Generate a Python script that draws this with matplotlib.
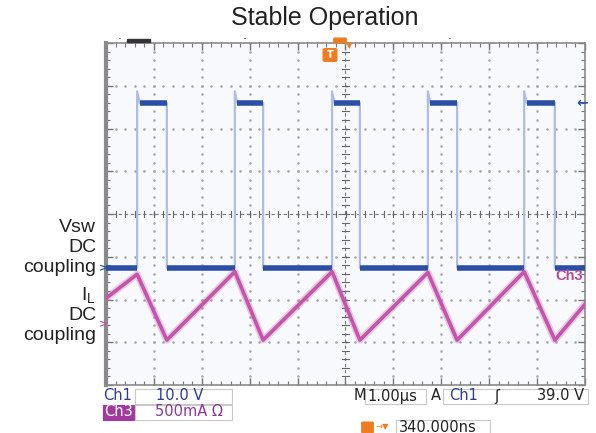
import numpy as np
import matplotlib.pyplot as plt
from matplotlib.patches import Rectangle, FancyBboxPatch

# ---------------------------------------------------------------------------
# Scope settings and waveform readings (time in us from screen centre)
# ---------------------------------------------------------------------------
W, H = 596, 433

ch1_scale, ch1_pos = 10.0, -1.26    # V/div, ground position in div
ch3_scale, ch3_pos = 0.5, -2.57     # A/div, ground position in div

# Ch1: switch node voltage Vsw
vsw_rise = [-4.35, -2.31, -0.28, 1.72, 3.73]
vsw_fall = [-3.73, -1.72, 0.30, 2.33, 4.37]
vsw_low = 0.0
vsw_high = 38.6
vsw_spike = 41.3

# Ch3: inductor current IL (peak at each Vsw rise, valley at each fall)
il_start = 0.30
il_peak = [0.58, 0.61, 0.61, 0.60, 0.61]
il_valley = [-0.19, -0.19, -0.19, -0.19, -0.19]
il_end = 0.23

left_labels = ["Vsw", "DC", "coupling", "I$_\\mathregular{L}$", "DC", "coupling"]

BLUE_D = "#2c4fa6"
BLUE_L = "#aebde4"
PINK = "#c455aa"
ORANGE = "#ee7d22"
TXT_BLUE = "#2d3c8e"


def fx(x):
    return x / W


def fy(y):
    return 1 - y / H


def v2div(v):
    return v / ch1_scale + ch1_pos


def i2div(i):
    return i / ch3_scale + ch3_pos


fig = plt.figure(figsize=(W / 100, H / 100), dpi=100)
fig.patch.set_facecolor("white")
ax = fig.add_axes([fx(106), fy(385), (585 - 106) / W, (385 - 43) / H])
ax.set_facecolor("#f7f9fd")
ax.set_xlim(-5, 5)
ax.set_ylim(-4, 4)

# graticule: dotted lines at each division
minor_x = np.arange(-5, 5.001, 0.2)
minor_y = np.arange(-4, 4.001, 0.2)
for gx in range(-4, 5):
    if gx != 0:
        ax.plot(np.full_like(minor_y, gx), minor_y, ls="none", marker="o",
                ms=0.9, color="#ababab", zorder=1)
for gy in range(-3, 4):
    if gy != 0:
        ax.plot(minor_x, np.full_like(minor_x, gy), ls="none", marker="o",
                ms=0.9, color="#ababab", zorder=1)

# centre crosshair with small ticks
ax.plot([-5, 5], [0, 0], color="#777777", lw=0.8, ls=(0, (3, 2.5)), zorder=1)
ax.plot([0, 0], [-4, 4], color="#777777", lw=0.8, ls=(0, (3, 2.5)), zorder=1)
for t in minor_x:
    ax.plot([t, t], [-0.07, 0.07], color="#666666", lw=0.8, zorder=1)
for t in minor_y:
    ax.plot([-0.08, 0.08], [t, t], color="#666666", lw=0.8, zorder=1)

# frame ticks
ax.set_xticks(np.arange(-5, 5.001, 1))
ax.set_yticks(np.arange(-4, 4.001, 1))
ax.set_xticks(minor_x, minor=True)
ax.set_yticks(minor_y, minor=True)
ax.tick_params(which="both", direction="in", top=True, right=True,
               labelbottom=False, labelleft=False, color="#777777")
ax.tick_params(which="major", length=5, width=1)
ax.tick_params(which="minor", length=3, width=0.8)
for side, sp in ax.spines.items():
    sp.set_color("#8a8a8a")
    sp.set_linewidth(1.2)
ax.spines["left"].set_linewidth(3)

# Ch1 waveform: faint full trace, then bold flat parts
vt, vv = [-5.0], [vsw_low]
for r, f in zip(vsw_rise, vsw_fall):
    vt += [r, r, r + 0.05, f, f]
    vv += [vsw_low, vsw_spike, vsw_high, vsw_high, vsw_low]
vt.append(5.0)
vv.append(vsw_low)
ax.plot(vt, v2div(np.array(vv)), color=BLUE_L, lw=1.6, zorder=3)

low_starts = [-5.0] + vsw_fall
low_ends = vsw_rise + [5.0]
for a, b in zip(low_starts, low_ends):
    ax.plot([a, b], [v2div(vsw_low)] * 2, color=BLUE_D, lw=4.0,
            solid_capstyle="butt", zorder=4)
for r, f in zip(vsw_rise, vsw_fall):
    ax.plot([r + 0.05, f], [v2div(vsw_high)] * 2, color=BLUE_D, lw=4.0,
            solid_capstyle="butt", zorder=4)

# Ch3 waveform: triangular inductor current
it, iv = [-5.0], [il_start]
for r, p, f, v in zip(vsw_rise, il_peak, vsw_fall, il_valley):
    it += [r, f]
    iv += [p, v]
it.append(5.0)
iv.append(il_end)
iy = i2div(np.array(iv))
ax.plot(it, iy, color=PINK, lw=5, alpha=0.3, zorder=5)
ax.plot(it, iy, color=PINK, lw=2.6, zorder=6)

# channel markers
fig.text(fx(104), fy(268), ">", color=BLUE_D, fontsize=8, ha="center",
         va="center", fontweight="bold")
fig.text(fx(103), fy(324), ">", color=PINK, fontsize=8, ha="center",
         va="center", fontweight="bold")
fig.text(fx(569), fy(276), "Ch3", color="#b44a9f", fontsize=10.5,
         ha="center", va="center", family="Liberation Sans",
         fontweight="bold")
fig.text(fx(582), fy(103), "\u2190", color=BLUE_D, fontsize=10, ha="center",
         va="center", fontweight="bold")

# top markers
fig.add_artist(Rectangle((fx(127), fy(42)), 23 / W, 3 / H,
                         transform=fig.transFigure, color="#333333"))
for xx in (120, 245, 450):
    fig.text(fx(xx), fy(40), "\u00b7", color="#333333", fontsize=9,
             ha="center", va="center")
fig.add_artist(FancyBboxPatch((fx(335), fy(42)), 10 / W, 3 / H,
                              boxstyle="round,pad=0.002",
                              transform=fig.transFigure, color=ORANGE))
fig.text(fx(349), fy(46), "\u25bc", color=ORANGE, fontsize=6, ha="center",
         va="center")
fig.add_artist(FancyBboxPatch((fx(325), fy(60)), 10 / W, 10 / H,
                              boxstyle="round,pad=0.003",
                              transform=fig.transFigure, color=ORANGE))
fig.text(fx(330), fy(55.5), "T", color="white", fontsize=7, ha="center",
         va="center", fontweight="bold")

# title and left-side labels
fig.text(fx(325), fy(18), "Stable Operation", fontsize=18, ha="center",
         va="center", color="#222222", family="Liberation Sans")
label_y = [228, 248, 268, 296, 316, 336]
for txt, yy in zip(left_labels, label_y):
    fig.text(fx(96), fy(yy), txt, fontsize=14, ha="right", va="center",
             color="#222222", family="Liberation Sans")


# readout boxes below the screen
def box(x0, x1, y0, y1, face="white", edge="#c8c8c8"):
    fig.add_artist(Rectangle((fx(x0), fy(y1)), (x1 - x0) / W, (y1 - y0) / H,
                             transform=fig.transFigure, facecolor=face,
                             edgecolor=edge, lw=0.8))


info = dict(fontsize=10.5, va="center", family="DejaVu Sans", color=TXT_BLUE)
fig.text(fx(103), fy(396), "Ch1", ha="left", **info)
box(135, 232, 389, 404)
fig.text(fx(156), fy(396), "10.0 V", ha="left", **info)
box(103, 134, 405, 420, face="#a2399f", edge="#a2399f")
fig.text(fx(104), fy(412), "Ch3", ha="left", fontsize=10.5, va="center",
         color="white")
box(135, 232, 405, 420)
fig.text(fx(155), fy(412), "500mA \u03a9", ha="left", fontsize=10.5,
         va="center", color="#8d3a93")
fig.text(fx(354), fy(396), "M", ha="left", fontsize=10.5, va="center",
         color="#222222")
box(365, 426, 389, 404)
fig.text(fx(367), fy(396), "1.00\u00b5s", ha="left", fontsize=10.5,
         va="center", color="#222222")
fig.text(fx(431), fy(396), "A", ha="left", fontsize=10.5, va="center",
         color="#222222")
box(443, 588, 389, 404)
fig.text(fx(449), fy(396), "Ch1", ha="left", **info)
fig.text(fx(497), fy(396), "\u0283", ha="center", fontsize=10.5,
         va="center", color="#222222")
fig.text(fx(584), fy(396), "39.0 V", ha="right", fontsize=10.5,
         va="center", color="#222222")
fig.add_artist(FancyBboxPatch((fx(363), fy(432)), 9 / W, 9 / H,
                              boxstyle="round,pad=0.002",
                              transform=fig.transFigure, color=ORANGE))
fig.text(fx(382), fy(427), "\u2192\u25bc", ha="center", fontsize=6,
         va="center", color=ORANGE)
box(396, 490, 420, 435)
fig.text(fx(399), fy(427), "340.000ns", ha="left", fontsize=10.5,
         va="center", color="#222222")

fig.savefig("out.png", dpi=100)
